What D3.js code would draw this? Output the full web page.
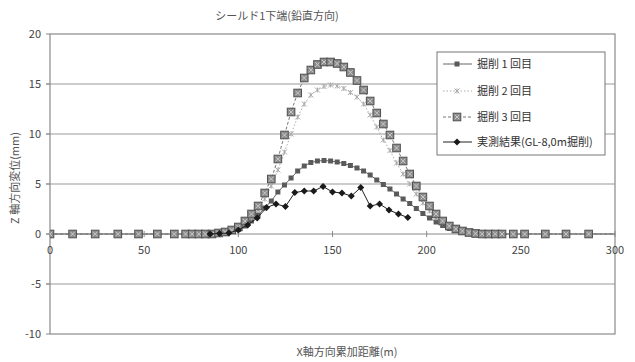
<!DOCTYPE html>
<html>
<head>
<meta charset="utf-8">
<script src="https://cdn.jsdelivr.net/npm/d3@7"></script>
<style>
  body { margin: 0; background: #fff; }
  svg { display: block; }
  text { font-family: "Noto Sans CJK JP", "Noto Sans", sans-serif; fill: #444; }
</style>
</head>
<body>
<svg id="chart" width="635" height="362"></svg>
<script>
// shared x positions (m) for the three excavation steps
const xs = [0, 12, 24, 36, 47, 57, 66, 72, 75.5, 79, 82.5, 86, 89.5, 93, 96.5, 100,
  103.5, 107, 110.5, 114, 117.5, 121, 124.5, 128, 131.5, 135, 138.5, 142, 145.5, 149,
  152.5, 156, 159.5, 163, 166.5, 170, 173.5, 177, 180.5, 184, 187.5, 191, 194.5, 198,
  201.5, 205, 208.5, 212, 215.5, 219, 222.5, 226, 229.5, 233, 236.5, 240, 246, 252,
  263, 274, 286, 309];

const step1 = [0, 0, 0, 0, 0, 0, 0, 0, 0, 0, 0, 0, 0.05, 0.1, 0.25, 0.45,
  0.8, 1.3, 1.9, 2.6, 3.3, 4.2, 4.9, 5.6, 6.3, 6.8, 7.15, 7.3, 7.35, 7.3,
  7.2, 7.05, 6.85, 6.6, 6.3, 5.9, 5.4, 4.95, 4.5, 4.0, 3.5, 3.05, 2.55, 2.05,
  1.6, 1.2, 0.85, 0.55, 0.35, 0.2, 0.1, 0.05, 0, 0, 0, 0, 0, 0,
  0, 0, 0, 0];

const step2 = [0, 0, 0, 0, 0, 0, 0, 0, 0, 0, 0, 0, 0.05, 0.15, 0.3, 0.6,
  1.0, 1.6, 2.4, 3.5, 4.8, 6.4, 8.2, 10.0, 11.7, 13.0, 13.9, 14.4, 14.75, 14.9,
  14.8, 14.55, 14.15, 13.7, 13.0, 11.9, 10.7, 9.4, 8.35, 7.1, 6.0, 5.0, 4.0, 3.1,
  2.3, 1.6, 1.1, 0.7, 0.4, 0.2, 0.1, 0, 0, 0, 0, 0, 0, 0,
  0, 0, 0, 0];

const step3 = [0, 0, 0, 0, 0, 0, 0, 0, 0, 0, 0, 0, 0.1, 0.2, 0.4, 0.7,
  1.3, 2.0, 2.8, 4.1, 5.5, 7.5, 9.9, 12.2, 14.1, 15.6, 16.4, 16.95, 17.2, 17.2,
  17.05, 16.7, 16.15, 15.35, 14.4, 13.3, 12.1, 11.0, 9.9, 8.6, 7.3, 6.0, 4.8, 3.7,
  2.8, 2.0, 1.3, 0.8, 0.5, 0.3, 0.15, 0.05, 0, 0, 0, 0, 0, 0,
  0, 0, 0, 0];

// measured result
const measX = [85, 90, 95, 100, 105, 110, 115, 120, 125, 130, 135, 140, 145, 150,
  155, 160, 165, 170, 175, 180, 185, 190];
const measY = [0, 0.05, 0.1, 0.4, 0.9, 1.6, 2.65, 3.0, 2.75, 4.15, 4.3, 4.3, 4.75, 4.2,
  4.1, 3.8, 4.65, 2.8, 3.0, 2.4, 2.0, 1.65];

const names = ["掘削 1 回目", "掘削 2 回目", "掘削 3 回目", "実測結果(GL-8,0m掘削)"];
const xTicks = [0, 50, 100, 150, 200, 250, 300];
const yTicks = [20, 15, 10, 5, 0, -5, -10];

const svg = d3.select("#chart");
const x = d3.scaleLinear().domain([0, 300]).range([50, 615]);
const y = d3.scaleLinear().domain([-10, 20]).range([334, 34]);

svg.append("defs").append("clipPath").attr("id", "plot")
  .append("rect").attr("x", 50).attr("y", 34).attr("width", 565).attr("height", 300);

// title
svg.append("text").attr("x", 277).attr("y", 20).attr("text-anchor", "middle")
  .style("font-size", "11px").style("fill", "#555").text("シールド1下端(鉛直方向)");

// gridlines
svg.append("g").selectAll("line").data(yTicks.filter(d => d !== 20 && d !== -10 && d !== 0)).join("line")
  .attr("x1", 46).attr("x2", 615).attr("y1", d => y(d)).attr("y2", d => y(d))
  .attr("stroke", "#9a9a9a").attr("stroke-width", 1.2);

// frame
svg.append("rect").attr("x", 50).attr("y", 34).attr("width", 565).attr("height", 300)
  .attr("fill", "none").attr("stroke", "#8a8a8a").attr("stroke-width", 1.2);

// zero line with cross ticks
svg.append("line").attr("x1", 46).attr("x2", 615).attr("y1", y(0)).attr("y2", y(0))
  .attr("stroke", "#8a8a8a").attr("stroke-width", 1.2);
svg.append("g").selectAll("line").data(xTicks).join("line")
  .attr("x1", d => x(d)).attr("x2", d => x(d)).attr("y1", y(0) - 3).attr("y2", y(0) + 3)
  .attr("stroke", "#8a8a8a");
svg.append("g").selectAll("line").data(yTicks).join("line")
  .attr("x1", 46).attr("x2", 50).attr("y1", d => y(d)).attr("y2", d => y(d))
  .attr("stroke", "#8a8a8a");

// tick labels
svg.append("g").selectAll("text").data(yTicks).join("text")
  .attr("x", 41).attr("y", d => y(d) + 4).attr("text-anchor", "end")
  .style("font-size", "11px").text(d => d);
svg.append("g").selectAll("text").data(xTicks).join("text")
  .attr("x", d => x(d)).attr("y", y(0) + 20).attr("text-anchor", "middle")
  .style("font-size", "11px").text(d => d);

// axis titles
svg.append("text").attr("transform", "translate(19,178) rotate(-90)").attr("text-anchor", "middle")
  .style("font-size", "11px").style("fill", "#555").text("Z 軸方向変位(mm)");
svg.append("text").attr("x", 347).attr("y", 356).attr("text-anchor", "middle")
  .style("font-size", "11px").style("fill", "#555").text("X軸方向累加距離(m)");

const styles = [
  { stroke: "#666", dash: null },
  { stroke: "#aaa", dash: "1.5,2" },
  { stroke: "#777", dash: "3,2" },
  { stroke: "#222", dash: null }
];

function marker(g, i, cx, cy) {
  if (i === 0) {
    g.append("rect").attr("x", cx - 2.5).attr("y", cy - 2.5).attr("width", 5).attr("height", 5)
      .attr("fill", "#5a5a5a");
  } else if (i === 1) {
    const s = 2.5;
    g.append("path").attr("d", `M${cx - s},${cy - s}L${cx + s},${cy + s}M${cx - s},${cy + s}L${cx + s},${cy - s}M${cx},${cy - s}L${cx},${cy + s}`)
      .attr("stroke", "#aaa").attr("stroke-width", 1).attr("fill", "none");
  } else if (i === 2) {
    const s = 3.8;
    g.append("rect").attr("x", cx - s).attr("y", cy - s).attr("width", 2 * s).attr("height", 2 * s)
      .attr("fill", "#8c8c8c").attr("stroke", "#505050").attr("stroke-width", 1);
    g.append("path").attr("d", `M${cx - s + 1.5},${cy - s + 1.5}L${cx + s - 1.5},${cy + s - 1.5}M${cx - s + 1.5},${cy + s - 1.5}L${cx + s - 1.5},${cy - s + 1.5}`)
      .attr("stroke", "#d0d0d0").attr("stroke-width", 0.9);
  } else {
    g.append("path").attr("d", `M${cx},${cy - 3.5}L${cx + 3.5},${cy}L${cx},${cy + 3.5}L${cx - 3.5},${cy}Z`)
      .attr("fill", "#1a1a1a");
  }
}

const series = [
  xs.map((d, k) => [d, step1[k]]),
  xs.map((d, k) => [d, step2[k]]),
  xs.map((d, k) => [d, step3[k]]),
  measX.map((d, k) => [d, measY[k]])
];

const line = d3.line().x(d => x(d[0])).y(d => y(d[1]));
const plot = svg.append("g").attr("clip-path", "url(#plot)");
series.forEach((pts, i) => {
  const g = plot.append("g");
  g.append("path").attr("d", line(pts)).attr("fill", "none")
    .attr("stroke", styles[i].stroke).attr("stroke-width", 1)
    .attr("stroke-dasharray", styles[i].dash);
  pts.forEach(p => marker(g, i, x(p[0]), y(p[1])));
});

// legend
const lg = svg.append("g");
lg.append("rect").attr("x", 437).attr("y", 52).attr("width", 168).attr("height", 103)
  .attr("fill", "#fff").attr("stroke", "#777").attr("stroke-width", 1);
const ly = [64, 91, 117, 142];
names.forEach((n, i) => {
  lg.append("line").attr("x1", 443).attr("x2", 472).attr("y1", ly[i]).attr("y2", ly[i])
    .attr("stroke", styles[i].stroke).attr("stroke-dasharray", styles[i].dash);
  marker(lg, i, 457, ly[i]);
  lg.append("text").attr("x", 477).attr("y", ly[i] + 4).style("font-size", "11px")
    .style("fill", "#333").text(n);
});
</script>
</body>
</html>
